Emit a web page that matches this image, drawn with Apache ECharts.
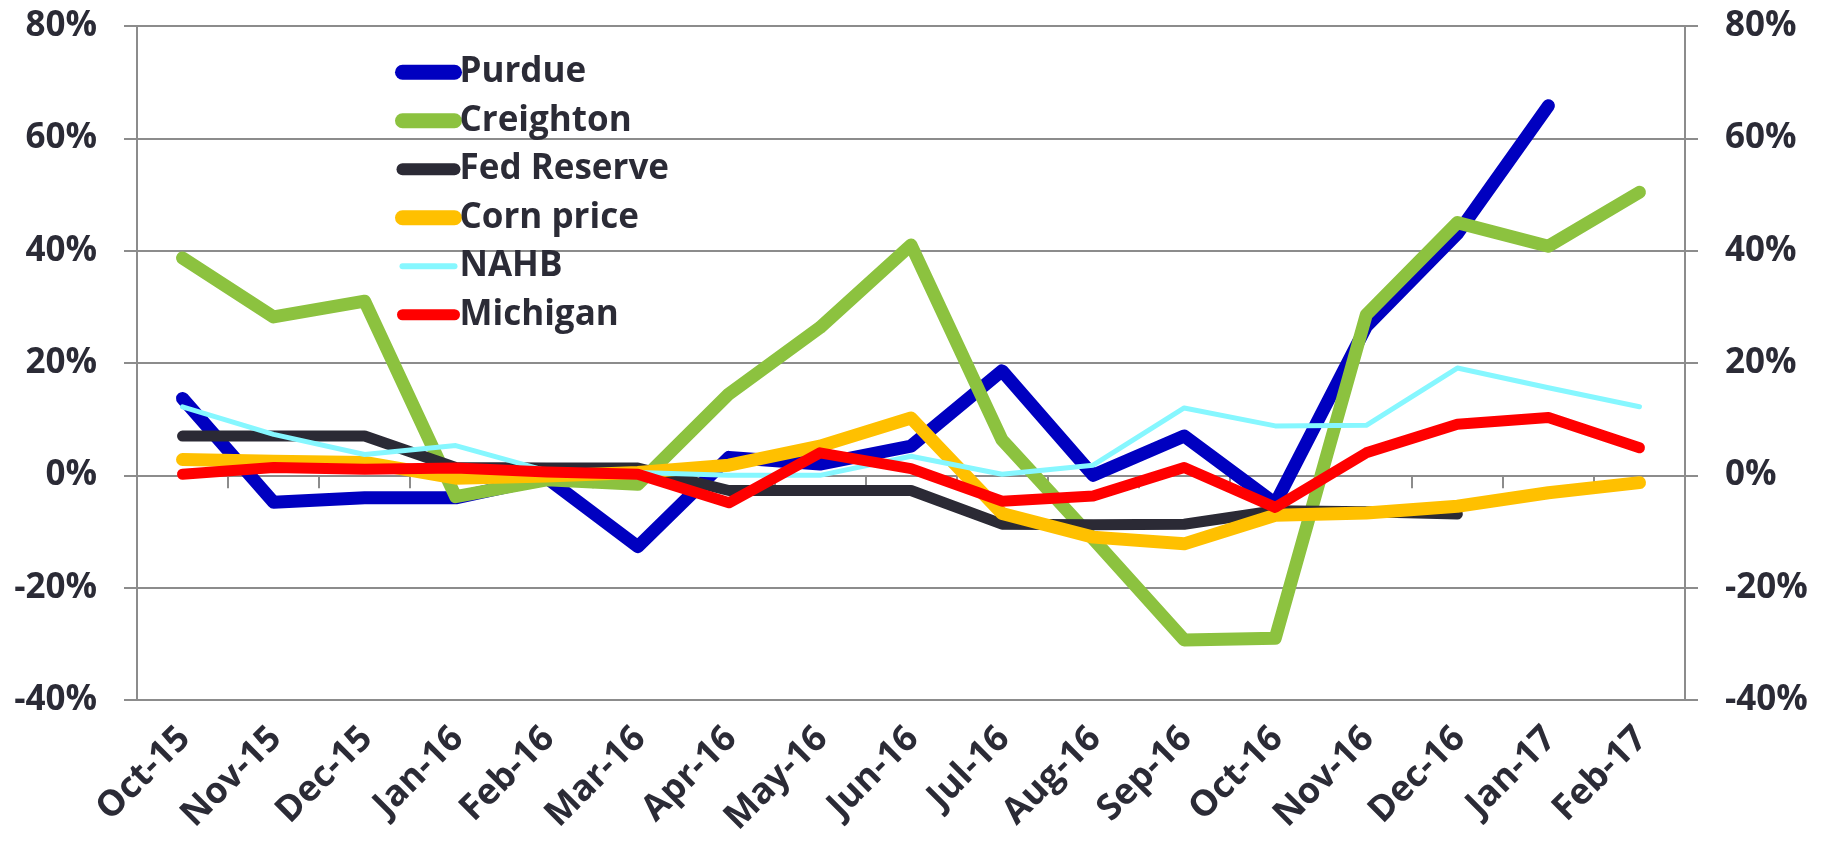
<!DOCTYPE html>
<html>
<head>
<meta charset="utf-8">
<script src="https://cdn.jsdelivr.net/npm/echarts@6/dist/echarts.min.js"></script>
<style>
html,body{margin:0;padding:0;background:#fff;}
#chart{width:1833px;height:846px;}
</style>
</head>
<body>
<div id="chart"></div>
<script>
const categories = ['Oct-15','Nov-15','Dec-15','Jan-16','Feb-16','Mar-16','Apr-16','May-16','Jun-16','Jul-16','Aug-16','Sep-16','Oct-16','Nov-16','Dec-16','Jan-17','Feb-17'];
const yTicks = [-40, -20, 0, 20, 40, 60, 80];

const purdue     = [13.7, -4.8, -4.0, -4.0, -0.5, -12.7, 3.2, 2.0, 5.2, 18.6, 0.0, 7.0, -5.0, 26.5, 43.0, 65.8, null];
const creighton  = [38.7, 28.2, 31.0, -3.8, -0.8, -1.6, 14.5, 26.3, 41.0, 6.3, -11.3, -29.3, -29.0, 28.6, 45.0, 40.8, 50.4];
const fedReserve = [7.0, 7.0, 7.0, 1.4, 1.3, 1.3, -2.7, -2.7, -2.7, -8.7, -8.8, -8.7, -6.3, -6.5, -6.9, null, null];
const cornPrice  = [2.8, 2.5, 2.3, -0.5, -0.1, 0.5, 1.8, 5.2, 10.2, -6.8, -11.0, -12.2, -7.1, -6.7, -5.5, -3.1, -1.3];
const nahb       = [12.2, 7.3, 3.7, 5.3, 0.8, 0.5, 0.0, 0.0, 3.4, 0.2, 1.8, 12.0, 8.8, 8.9, 19.1, 15.6, 12.2];
const michigan   = [0.2, 1.4, 1.1, 1.3, 0.6, 0.2, -4.9, 4.0, 1.2, -4.6, -3.7, 1.4, -5.7, 4.0, 9.1, 10.3, 4.9];

const seriesDefs = [
  {name: 'Purdue',      data: purdue,     color: '#0000C0', width: 13, legendWidth: 15},
  {name: 'Creighton',   data: creighton,  color: '#8CC23F', width: 13, legendWidth: 15},
  {name: 'Fed Reserve', data: fedReserve, color: '#2B2A35', width: 11, legendWidth: 12},
  {name: 'Corn price',  data: cornPrice,  color: '#FFC000', width: 13, legendWidth: 15},
  {name: 'NAHB',        data: nahb,       color: '#86F7FF', width: 5,  legendWidth: 6},
  {name: 'Michigan',    data: michigan,   color: '#FF0000', width: 11, legendWidth: 11}
];

const FONT = '"Open Sans", "Noto Sans", sans-serif';
const TXT = '#2B2B36';
const GRID = '#8C8C8C';

const chart = echarts.init(document.getElementById('chart'), null, {renderer: 'canvas'});

const yAxisCommon = {
  type: 'value',
  min: -40, max: 80, interval: 20,
  axisLine: {show: true, lineStyle: {color: GRID, width: 2}},
  axisTick: {show: true, length: 13, lineStyle: {color: GRID, width: 2}},
  axisLabel: {
    formatter: '{value}%', fontFamily: FONT, fontWeight: 'bold', fontSize: 35,
    color: TXT, margin: 40
  }
};

chart.setOption({
  animation: false,
  backgroundColor: '#ffffff',
  grid: {left: 137, right: 148, top: 26, bottom: 146, containLabel: false},
  legend: {
    orient: 'vertical',
    left: 395, top: 52, padding: 0,
    itemWidth: 52, itemHeight: 15, itemGap: 8,
    textStyle: {fontFamily: FONT, fontWeight: 'bold', fontSize: 35, color: TXT, lineHeight: 40.5},
    data: seriesDefs.map(s => ({
      name: s.name,
      itemStyle: {opacity: 0},
      lineStyle: {color: s.color, width: s.legendWidth, cap: 'round'}
    }))
  },
  xAxis: [
    {
      type: 'category', data: categories, position: 'bottom',
      axisLine: {show: false, onZero: false},
      axisTick: {show: false},
      axisLabel: {
        interval: 0, rotate: 45, fontFamily: FONT, fontWeight: 'bold', fontSize: 36,
        color: TXT, margin: 35, padding: [0, -3, 0, 0]
      },
      splitLine: {show: false}
    },
    {
      type: 'category', data: categories, position: 'top',
      axisLine: {show: true, onZero: true, lineStyle: {color: GRID, width: 2}},
      axisTick: {show: true, inside: true, length: 13, lineStyle: {color: GRID, width: 2}},
      axisLabel: {show: false},
      splitLine: {show: false}
    }
  ],
  yAxis: [
    Object.assign({}, yAxisCommon, {
      position: 'left',
      splitLine: {show: true, lineStyle: {color: GRID, width: 2}}
    }),
    Object.assign({}, yAxisCommon, {
      position: 'right',
      splitLine: {show: false},
      axisLabel: Object.assign({}, yAxisCommon.axisLabel, {align: 'left'})
    })
  ],
  series: seriesDefs.map(s => ({
    name: s.name,
    type: 'line',
    xAxisIndex: 0,
    yAxisIndex: 0,
    data: s.data,
    symbol: 'none',
    connectNulls: false,
    color: s.color,
    lineStyle: {color: s.color, width: s.width, cap: 'round', join: 'round'}
  }))
});
</script>
</body>
</html>
